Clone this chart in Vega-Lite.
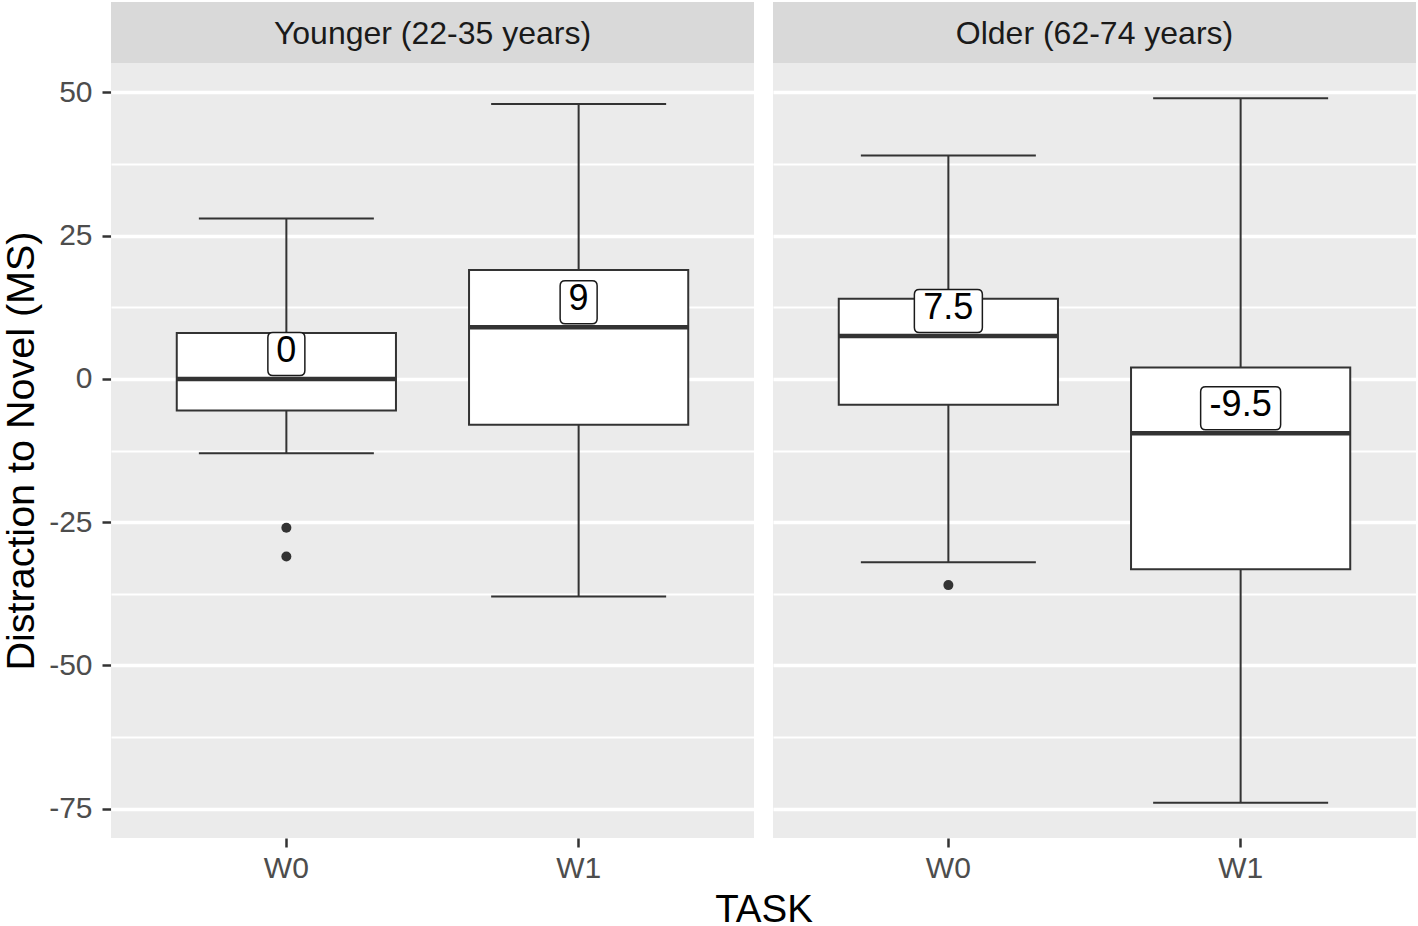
{
  "$schema": "https://vega.github.io/schema/vega-lite/v6.json",
  "background": "white",
  "padding": {"left": 1, "top": 1, "right": 2, "bottom": 0},
  "data": {"values": [
    {"group": "Younger (22-35 years)", "task": "W0", "lower": -13, "q1": -5.5, "median": 0, "q3": 8, "upper": 28, "lab": "0"},
    {"group": "Younger (22-35 years)", "task": "W1", "lower": -38, "q1": -8, "median": 9, "q3": 19, "upper": 48, "lab": "9"},
    {"group": "Older (62-74 years)", "task": "W0", "lower": -32, "q1": -4.5, "median": 7.5, "q3": 14, "upper": 39, "lab": "7.5"},
    {"group": "Older (62-74 years)", "task": "W1", "lower": -74, "q1": -33.25, "median": -9.5, "q3": 2, "upper": 49, "lab": "-9.5"},
    {"group": "Younger (22-35 years)", "task": "W0", "value": -26},
    {"group": "Younger (22-35 years)", "task": "W0", "value": -31},
    {"group": "Older (62-74 years)", "task": "W0", "value": -36}
  ]},
  "facet": {
    "column": {
      "field": "group", "type": "nominal",
      "sort": ["Younger (22-35 years)", "Older (62-74 years)"],
      "header": {"labels": false, "title": "TASK", "titleOrient": "bottom", "titleFontSize": 38.5, "titleFont": "Liberation Sans", "titleFontWeight": "normal", "titleColor": "black", "titlePadding": -1}
    }
  },
  "spacing": 19,
  "spec": {
    "width": 643,
    "height": 775,
    "encoding": {
      "x": {
        "field": "task", "type": "nominal",
        "scale": {"paddingInner": 0, "paddingOuter": 0.1},
        "axis": {"title": null, "labelAngle": 0, "gridWidth": 3.5, "labelPadding": 6}
      }
    },
    "layer": [
      {
        "transform": [{"filter": "isValid(datum.median)"}],
        "mark": {"type": "rule", "color": "#333333", "strokeWidth": 2},
        "encoding": {
          "y": {
            "field": "lower", "type": "quantitative",
            "scale": {"domain": [-80.15, 55.15], "nice": false, "zero": false},
            "axis": {
              "values": [-75, -62.5, -50, -37.5, -25, -12.5, 0, 12.5, 25, 37.5, 50],
              "labelExpr": "datum.value % 25 === 0 ? '' + datum.value : ''",
              "tickOpacity": {"condition": {"test": "datum.value % 25 !== 0", "value": 0}, "value": 1},
              "gridWidth": {"condition": {"test": "datum.value % 25 !== 0", "value": 1.8}, "value": 3.5},
              "title": "Distraction to Novel (MS)",
              "titleFontSize": 39.5,
              "titlePadding": 7,
              "labelPadding": 10
            }
          },
          "y2": {"field": "upper"}
        }
      },
      {
        "transform": [{"filter": "isValid(datum.median)"}],
        "mark": {"type": "tick", "color": "#333333", "opacity": 1, "thickness": 2, "size": 175},
        "encoding": {"y": {"field": "upper", "type": "quantitative"}}
      },
      {
        "transform": [{"filter": "isValid(datum.median)"}],
        "mark": {"type": "tick", "color": "#333333", "opacity": 1, "thickness": 2, "size": 175},
        "encoding": {"y": {"field": "lower", "type": "quantitative"}}
      },
      {
        "transform": [{"filter": "isValid(datum.median)"}],
        "mark": {"type": "bar", "fill": "white", "stroke": "#333333", "strokeWidth": 2, "width": {"band": 0.75}},
        "encoding": {"y": {"field": "q1", "type": "quantitative"}, "y2": {"field": "q3"}}
      },
      {
        "transform": [{"filter": "isValid(datum.median)"}],
        "mark": {"type": "tick", "color": "#333333", "opacity": 1, "thickness": 4.5, "size": 219},
        "encoding": {"y": {"field": "median", "type": "quantitative"}}
      },
      {
        "transform": [{"filter": "isValid(datum.value)"}],
        "mark": {"type": "point", "filled": true, "color": "#333333", "opacity": 1, "size": 100},
        "encoding": {"y": {"field": "value", "type": "quantitative"}}
      },
      {
        "transform": [{"filter": "isValid(datum.median)"}],
        "mark": {"type": "point", "filled": true, "fill": "white", "stroke": "#1a1a1a", "strokeWidth": 1.5, "opacity": 1, "size": 6400, "yOffset": -25},
        "encoding": {
          "y": {"field": "median", "type": "quantitative"},
          "shape": {
            "field": "lab", "type": "nominal", "legend": null,
            "scale": {
              "domain": ["0", "9", "7.5", "-9.5"],
              "range": [
                "M-0.3375,-0.5375L0.3375,-0.5375Q0.4625,-0.5375,0.4625,-0.4125L0.4625,0.4125Q0.4625,0.5375,0.3375,0.5375L-0.3375,0.5375Q-0.4625,0.5375,-0.4625,0.4125L-0.4625,-0.4125Q-0.4625,-0.5375,-0.3375,-0.5375Z",
                "M-0.3375,-0.5375L0.3375,-0.5375Q0.4625,-0.5375,0.4625,-0.4125L0.4625,0.4125Q0.4625,0.5375,0.3375,0.5375L-0.3375,0.5375Q-0.4625,0.5375,-0.4625,0.4125L-0.4625,-0.4125Q-0.4625,-0.5375,-0.3375,-0.5375Z",
                "M-0.725,-0.5375L0.725,-0.5375Q0.85,-0.5375,0.85,-0.4125L0.85,0.4125Q0.85,0.5375,0.725,0.5375L-0.725,0.5375Q-0.85,0.5375,-0.85,0.4125L-0.85,-0.4125Q-0.85,-0.5375,-0.725,-0.5375Z",
                "M-0.875,-0.5375L0.875,-0.5375Q1,-0.5375,1,-0.4125L1,0.4125Q1,0.5375,0.875,0.5375L-0.875,0.5375Q-1,0.5375,-1,0.4125L-1,-0.4125Q-1,-0.5375,-0.875,-0.5375Z"
              ]
            }
          }
        }
      },
      {
        "transform": [{"filter": "isValid(datum.median)"}],
        "mark": {"type": "text", "font": "Liberation Sans", "fontSize": 36, "color": "black", "baseline": "middle", "align": "center", "yOffset": -28},
        "encoding": {
          "y": {"field": "median", "type": "quantitative"},
          "text": {"field": "lab"}
        }
      },
      {
        "transform": [{"filter": "datum.task === 'W0' && isValid(datum.median)"}],
        "mark": {"type": "rect", "color": "#D9D9D9", "clip": false},
        "encoding": {
          "x": {"value": 0},
          "x2": {"value": "width"},
          "y": {"datum": 55.15},
          "y2": {"datum": 65.8}
        }
      },
      {
        "transform": [{"filter": "datum.task === 'W0' && isValid(datum.median)"}],
        "mark": {"type": "text", "font": "Liberation Sans", "fontSize": 32, "color": "#1A1A1A", "baseline": "middle", "align": "center", "clip": false},
        "encoding": {
          "x": {"value": {"expr": "child_width / 2"}},
          "y": {"datum": 60.2},
          "text": {"field": "group"}
        }
      }
    ]
  },
  "config": {
    "font": "Liberation Sans",
    "view": {"fill": "#EBEBEB", "stroke": null},
    "axis": {
      "domain": false,
      "gridColor": "white",
      "tickColor": "#333333",
      "tickWidth": 2.5,
      "tickSize": 9,
      "labelColor": "#4D4D4D",
      "labelFontSize": 30,
      "labelFont": "Liberation Sans",
      "titleFont": "Liberation Sans",
      "titleFontWeight": "normal",
      "titleColor": "black",
      "titleFontSize": 38
    }
  }
}
